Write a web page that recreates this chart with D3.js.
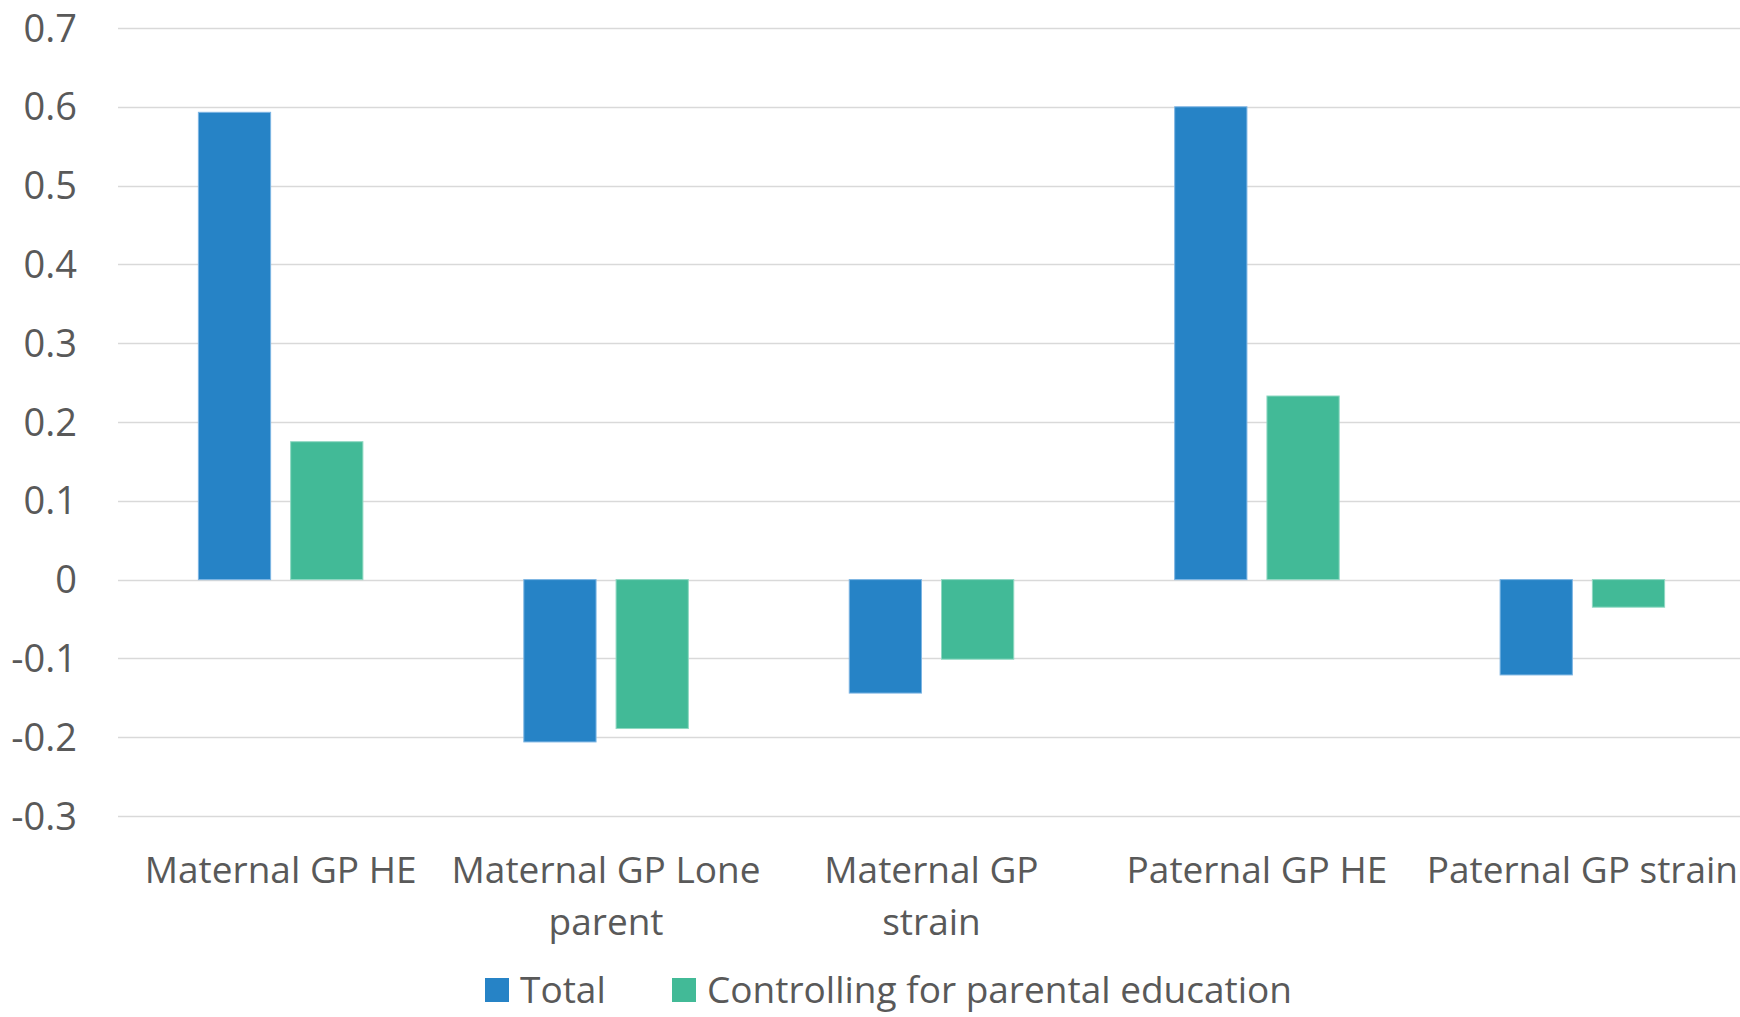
<!DOCTYPE html>
<html>
<head>
<meta charset="utf-8">
<script src="https://cdn.jsdelivr.net/npm/d3@7"></script>
<style>
	body { margin: 0; background: #fff; overflow: hidden; }
	text { font-family: "Open Sans", "Noto Sans", sans-serif; fill: #595959; }
</style>
</head>
<body>
<script>
// data
var categories = ["Maternal GP HE", "Maternal GP Lone parent", "Maternal GP strain", "Paternal GP HE", "Paternal GP strain"];
var labelLines = [["Maternal GP HE"], ["Maternal GP Lone", "parent"], ["Maternal GP", "strain"], ["Paternal GP HE"], ["Paternal GP strain"]];
var seriesNames = ["Total", "Controlling for parental education"];
var totalValues = [0.593, -0.206, -0.144, 0.600, -0.121];
var controlledValues = [0.175, -0.189, -0.101, 0.233, -0.035];
var yTicks = [0.7, 0.6, 0.5, 0.4, 0.3, 0.2, 0.1, 0, -0.1, -0.2, -0.3];

var colors = ["#2683C6", "#42BA97"],
	strokes = ["#7DB5E3", "#8FD8C2"];

var width = 1740,
	height = 1017,
	margin = {top: 28, right: -5, bottom: 201, left: 118};

var svg = d3.select("body").append("svg")
	.attr("width", width)
	.attr("height", height);

var y = d3.scaleLinear()
	.domain([-0.3, 0.7])
	.range([height - margin.bottom, margin.top]);

var x0 = d3.scaleBand()
	.domain(categories)
	.range([margin.left, width - margin.right])
	.paddingInner(0.4945)
	.paddingOuter(0.247);

var x1 = d3.scaleBand()
	.domain(seriesNames)
	.range([0, x0.bandwidth()])
	.paddingInner(0.217);

// gridlines + y labels
var grid = svg.append("g");
grid.selectAll("line")
	.data(yTicks)
	.enter().append("line")
	.attr("x1", margin.left)
	.attr("x2", width)
	.attr("y1", function (d) { return Math.round(y(d)) + 0.5; })
	.attr("y2", function (d) { return Math.round(y(d)) + 0.5; })
	.attr("stroke", "#D9D9D9")
	.attr("stroke-width", 1.6);

grid.selectAll("text")
	.data(yTicks)
	.enter().append("text")
	.attr("x", 77)
	.attr("y", function (d) { return y(d); })
	.attr("dy", "0.36em")
	.attr("text-anchor", "end")
	.style("font-size", "38px")
	.text(function (d) { return String(d); });

// bars
var rows = categories.map(function (c, i) {
	return {cat: c, vals: [totalValues[i], controlledValues[i]]};
});

var groups = svg.append("g").selectAll("g")
	.data(rows)
	.enter().append("g")
	.attr("transform", function (d) { return "translate(" + x0(d.cat) + ",0)"; });

groups.selectAll("rect")
	.data(function (d) {
		return d.vals.map(function (v, j) { return {s: seriesNames[j], v: v, j: j}; });
	})
	.enter().append("rect")
	.attr("x", function (d) { return x1(d.s); })
	.attr("width", x1.bandwidth())
	.attr("y", function (d) { return y(Math.max(0, d.v)); })
	.attr("height", function (d) { return Math.abs(y(d.v) - y(0)); })
	.attr("fill", function (d) { return colors[d.j]; })
	.attr("stroke", function (d) { return strokes[d.j]; })
	.attr("stroke-width", 1);

// category labels
var catLabels = svg.append("g").selectAll("text")
	.data(categories)
	.enter().append("text")
	.attr("x", function (d) { return x0(d) + x0.bandwidth() / 2; })
	.attr("y", 883)
	.attr("text-anchor", "middle")
	.style("font-size", "37px");

catLabels.each(function (d, i) {
	var t = d3.select(this);
	labelLines[i].forEach(function (line, k) {
		t.append("tspan")
			.attr("x", x0(d) + x0.bandwidth() / 2)
			.attr("dy", k === 0 ? 0 : 52)
			.text(line);
	});
});

// legend
var legendX = [485, 672];
var legend = svg.append("g").selectAll("g")
	.data(seriesNames)
	.enter().append("g")
	.attr("transform", function (d, i) { return "translate(" + legendX[i] + ",978)"; });

legend.append("rect")
	.attr("width", 24)
	.attr("height", 24)
	.attr("fill", function (d, i) { return colors[i]; });

legend.append("text")
	.attr("x", 35)
	.attr("y", 12)
	.attr("dy", "0.36em")
	.style("font-size", "37px")
	.text(function (d) { return d; });
</script>
</body>
</html>
